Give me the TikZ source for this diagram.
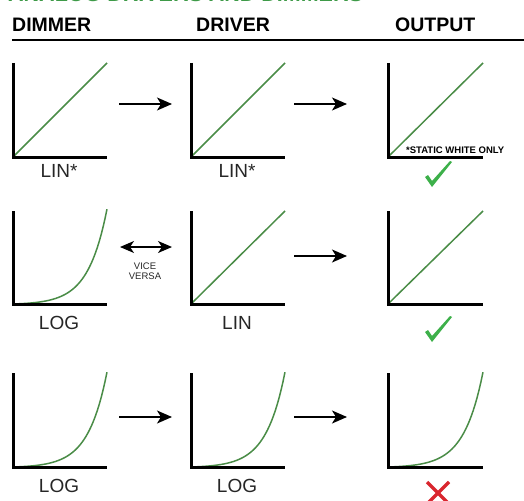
\documentclass[tikz,border=0pt]{standalone}
\usepackage{fontspec}
\setmainfont{Liberation Sans}
\usetikzlibrary{arrows.meta}
\definecolor{curvegreen}{HTML}{4A8C47}
\definecolor{checkgreen}{HTML}{3DB04A}
\definecolor{titlegreen}{HTML}{3E9A48}
\definecolor{crossred}{HTML}{D9262E}
\tikzset{
  axis/.style={line width=3pt, black, line join=miter},
  resp/.style={line width=1.5pt, curvegreen},
  flow/.style={line width=1.4pt, -{Stealth[length=15pt,width=13pt,inset=4pt]}},
  bothflow/.style={line width=1.4pt, {Stealth[length=14pt,width=12pt,inset=4pt]}-{Stealth[length=14pt,width=12pt,inset=4pt]}},
  colhead/.style={font=\bfseries\fontsize{19.5}{20}\selectfont, anchor=base west, inner sep=0pt},
  lbl/.style={font=\fontsize{19}{20}\selectfont, anchor=base, inner sep=0pt, text=black!85},
  smalltxt/.style={font=\fontsize{9.5}{10.5}\selectfont, align=center, inner sep=0pt, text=black!85},
  note/.style={font=\bfseries\fontsize{9.5}{10}\selectfont, anchor=base west, inner sep=0pt},
  okmark/.style={checkgreen},
  nomark/.style={line width=3.5pt, crossred}
}
\begin{document}
\begin{tikzpicture}[x=1pt, y=-1pt]
	\useasboundingbox (0,0) rectangle (524,500);
	% title and header
	\node[colhead, text=titlegreen, font=\bfseries\fontsize{21.5}{22}\selectfont] (title) at (8,2) {ANALOG DRIVERS AND DIMMERS};
	\node[colhead] (hdim) at (12,32) {DIMMER};
	\node[colhead] (hdrv) at (196,32) {DRIVER};
	\node[colhead] (hout) at (395,32) {OUTPUT};
	\draw[line width=1.5pt] (12,40) -- (524,40);
	% plot origins
	\coordinate (d1) at (13,157);
	\coordinate (r1) at (191,157);
	\coordinate (o1) at (388,157);
	\coordinate (d2) at (13,304);
	\coordinate (r2) at (191,304);
	\coordinate (o2) at (388,304);
	\coordinate (d3) at (13,467);
	\coordinate (r3) at (191,467);
	\coordinate (o3) at (388,467);
	% row 1
	\draw[resp] (d1) -- ++(94,-94);
	\draw[resp] (r1) -- ++(94,-94);
	\draw[resp] (o1) -- ++(95,-94);
	\draw[axis] (d1) ++(0,-94) -- (d1) -- ++(94,0);
	\draw[axis] (r1) ++(0,-94) -- (r1) -- ++(94,0);
	\draw[axis] (o1) ++(0,-94) -- (o1) -- ++(95,0);
	\node[lbl] (ld1) at (59,177) {LIN*};
	\node[lbl] (lr1) at (237,177) {LIN*};
	\node[note] (static) at (406,153) {*STATIC WHITE ONLY};
	% row 2
	\draw[resp, shift={(d2)}] plot[domain=0:1, samples=50] ({94*\x}, {-95*((exp(5*\x)-1)/(exp(5)-1))});
	\draw[resp] (r2) -- ++(94,-93);
	\draw[resp] (o2) -- ++(95,-93);
	\draw[axis] (d2) ++(0,-93) -- (d2) -- ++(94,0);
	\draw[axis] (r2) ++(0,-93) -- (r2) -- ++(94,0);
	\draw[axis] (o2) ++(0,-93) -- (o2) -- ++(95,0);
	\node[lbl] (ld2) at (59,329) {LOG};
	\node[lbl] (lr2) at (237,329) {LIN};
	\node[smalltxt] (vice) at (145,271) {VICE\\VERSA};
	% row 3
	\draw[resp, shift={(d3)}] plot[domain=0:1, samples=50] ({94*\x}, {-95*((exp(5*\x)-1)/(exp(5)-1))});
	\draw[resp, shift={(r3)}] plot[domain=0:1, samples=50] ({94*\x}, {-95*((exp(5*\x)-1)/(exp(5)-1))});
	\draw[resp, shift={(o3)}] plot[domain=0:1, samples=50] ({95*\x}, {-95*((exp(5*\x)-1)/(exp(5)-1))});
	\draw[axis] (d3) ++(0,-94) -- (d3) -- ++(94,0);
	\draw[axis] (r3) ++(0,-94) -- (r3) -- ++(94,0);
	\draw[axis] (o3) ++(0,-94) -- (o3) -- ++(95,0);
	\node[lbl] (ld3) at (59,492) {LOG};
	\node[lbl] (lr3) at (237,492) {LOG};
	% arrows
	\coordinate (a1s) at (119,104);
	\coordinate (a1e) at (172,104);
	\coordinate (b1s) at (294,104);
	\coordinate (b1e) at (347,104);
	\coordinate (a2s) at (120,247);
	\coordinate (a2e) at (172,247);
	\coordinate (b2s) at (294,256);
	\coordinate (b2e) at (347,256);
	\coordinate (a3s) at (119,417);
	\coordinate (a3e) at (172,417);
	\coordinate (b3s) at (294,417);
	\coordinate (b3e) at (347,417);
	\draw[flow] (a1s) -- (a1e);
	\draw[flow] (b1s) -- (b1e);
	\draw[bothflow] (a2s) -- (a2e);
	\draw[flow] (b2s) -- (b2e);
	\draw[flow] (a3s) -- (a3e);
	\draw[flow] (b3s) -- (b3e);
	% results
	\coordinate (ok1) at (431,186);
	\coordinate (ok2) at (431,341);
	\coordinate (no3) at (438,493);
	\fill[okmark, shift={(ok1)}] (-6,-9) -- (-3,-11) -- (1,-5) -- (19,-25) -- (21,-24) -- (1,1) -- cycle;
	\fill[okmark, shift={(ok2)}] (-6,-9) -- (-3,-11) -- (1,-5) -- (19,-25) -- (21,-24) -- (1,1) -- cycle;
	\draw[nomark, shift={(no3)}] (-11,-11) -- (11,11) (11,-11) -- (-11,11);
\end{tikzpicture}
\end{document}
